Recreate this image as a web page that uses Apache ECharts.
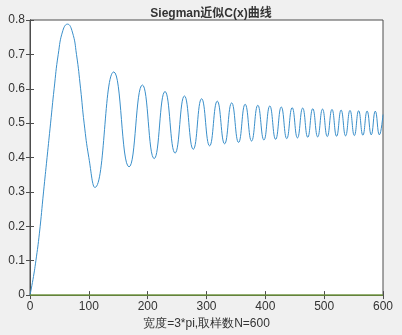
<!DOCTYPE html>
<html>
<head>
<meta charset="utf-8">
<script src="https://cdn.jsdelivr.net/npm/echarts@6/dist/echarts.min.js"></script>
<style>
  html, body { margin: 0; padding: 0; background: #f0f0f0; }
  #chart { width: 402px; height: 335px; }
</style>
</head>
<body>
<div id="chart"></div>
<script>
// sample index (x) and C(x) value: first rise/fall, then peaks and troughs
const sampleIdx = [
  0, 5, 10, 16, 23, 29, 35, 41, 48, 56, 63.7, 72, 79, 86, 92, 100, 110.3,
  142.4, 168.4, 191.0, 211.1, 229.5, 246.6, 262.5, 277.5, 291.7, 305.3,
  318.3, 330.8, 342.8, 354.5, 365.7, 376.6, 387.2, 397.6, 407.6, 417.5,
  427.1, 436.4, 445.6, 454.6, 463.5, 472.1, 480.6, 489.0, 497.2, 505.3,
  513.3, 521.1, 528.8, 536.4, 543.9, 551.3, 558.6, 565.8, 573.0, 580.0,
  586.9, 593.8, 600
];
const cValues = [
  0, 0.045, 0.1, 0.18, 0.3, 0.4, 0.5, 0.6, 0.7, 0.77, 0.788, 0.765, 0.7, 0.6, 0.5, 0.4, 0.313,
  0.649, 0.373, 0.611, 0.397, 0.592, 0.413, 0.579, 0.424, 0.571, 0.434,
  0.564, 0.44, 0.559, 0.444, 0.555, 0.448, 0.552, 0.451, 0.55, 0.453,
  0.547, 0.455, 0.545, 0.457, 0.544, 0.459, 0.542, 0.46, 0.541, 0.461,
  0.54, 0.462, 0.538, 0.463, 0.537, 0.464, 0.536, 0.465, 0.535, 0.466,
  0.535, 0.466, 0.525
];
const baseX = [0, 600];
const baseY = [0, 0];

const titleText = 'Siegman近似C(x)曲线';
const xLabelText = '宽度=3*pi,取样数N=600';

const chart = echarts.init(document.getElementById('chart'));

const tickLabel = { color: '#333333', fontSize: 12, fontFamily: 'Arial, "Liberation Sans", sans-serif' };
const axisLineStyle = { color: '#4d4d4d', width: 1 };

const option = {
  backgroundColor: '#f0f0f0',
  animation: false,
  title: {
    text: titleText,
    left: 206,
    top: 3,
    textAlign: 'center',
    textStyle: { color: '#333333', fontSize: 12, fontWeight: 'bold', fontFamily: 'Arial, "Noto Sans CJK SC", sans-serif' }
  },
  grid: {
    left: 30, right: 19, top: 20, bottom: 37,
    show: true, backgroundColor: '#ffffff', borderColor: '#4d4d4d', borderWidth: 1
  },
  xAxis: [
    {
      type: 'value', min: 0, max: 600, interval: 100,
      name: xLabelText, nameLocation: 'middle', nameGap: 21,
      nameTextStyle: { color: '#333333', fontSize: 12, fontFamily: '"Liberation Sans", serif' },
      axisLine: { lineStyle: axisLineStyle },
      axisTick: { inside: true, length: 4, lineStyle: axisLineStyle },
      axisLabel: Object.assign({ margin: 6 }, tickLabel),
      splitLine: { show: false }
    },
    {
      type: 'value', min: 0, max: 600, interval: 100, position: 'top',
      axisLine: { lineStyle: axisLineStyle },
      axisTick: { inside: true, length: 4, lineStyle: axisLineStyle },
      axisLabel: { show: false },
      splitLine: { show: false }
    }
  ],
  yAxis: [
    {
      type: 'value', min: 0, max: 0.8, interval: 0.1,
      axisLine: { show: true, lineStyle: axisLineStyle },
      axisTick: { show: true, inside: true, length: 4, lineStyle: axisLineStyle },
      axisLabel: Object.assign({ margin: 5 }, tickLabel),
      splitLine: { show: false }
    },
    {
      type: 'value', min: 0, max: 0.8, interval: 0.1, position: 'right',
      axisLine: { show: true, lineStyle: axisLineStyle },
      axisTick: { show: true, inside: true, length: 4, lineStyle: axisLineStyle },
      axisLabel: { show: false },
      splitLine: { show: false }
    }
  ],
  series: [
    {
      type: 'line',
      data: sampleIdx.map((x, i) => [x, cValues[i]]),
      smooth: 0.5,
      showSymbol: false,
      lineStyle: { color: '#3a8fca', width: 1 },
      z: 3
    },
    {
      type: 'line',
      data: baseX.map((x, i) => [x, baseY[i]]),
      showSymbol: false,
      lineStyle: { color: '#77ac30', width: 1.2 },
      z: 4
    }
  ]
};

chart.setOption(option);
</script>
</body>
</html>
